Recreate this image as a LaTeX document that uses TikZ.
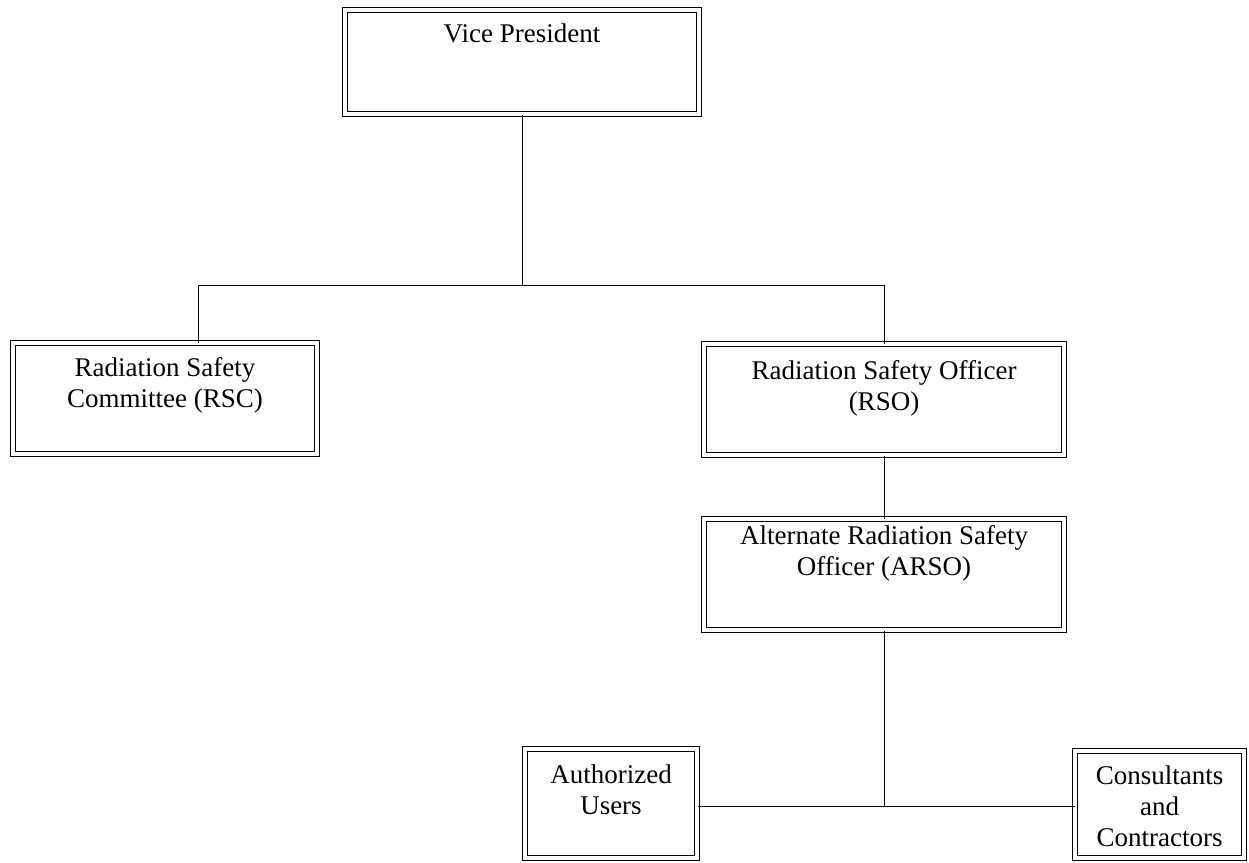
\documentclass[tikz,border=0pt]{standalone}
\usepackage{fontspec}
\setmainfont{Liberation Serif}
\usetikzlibrary{positioning}

\tikzset{
  unitbox/.style={draw, double, double distance=3.4pt, line width=1pt, inner sep=0pt},
  unittext/.style={font=\fontsize{27}{31}\selectfont, align=center, anchor=north, inner sep=0pt},
  link/.style={line width=0.8pt}
}

\begin{document}
\begin{tikzpicture}[x=1pt,y=-1pt]
  \path[fill=white] (0,0) rectangle (1249,862);
  \useasboundingbox (0,0) rectangle (1249,862);

  % boxes
  \node[unitbox, minimum width=354pt, minimum height=104pt] (vp) at (522,62) {};
  \node[unitbox, minimum width=304pt, minimum height=111pt] (rsc) at (165,398.5) {};
  \node[unitbox, minimum width=360pt, minimum height=111pt] (rso) at (884,399.5) {};
  \node[unitbox, minimum width=360pt, minimum height=111pt] (arso) at (884,574.5) {};
  \node[unitbox, minimum width=172pt, minimum height=109pt] (au) at (611,803.5) {};
  \node[unitbox, minimum width=169pt, minimum height=107pt] (cc) at (1159.5,804.5) {};

  % texts
  \node[unittext] (vptext) at ([yshift=-14pt]vp.north) {Vice President};
  \node[unittext] (rsctext) at ([yshift=-15pt]rsc.north) {Radiation Safety\\Committee (RSC)};
  \node[unittext] (rsotext) at ([yshift=-17pt]rso.north) {Radiation Safety Officer\\(RSO)};
  \node[unittext] (arsotext) at ([yshift=-7pt]arso.north) {Alternate Radiation Safety\\Officer (ARSO)};
  \node[unittext] (autext) at ([yshift=-16pt]au.north) {Authorized\\Users};
  \node[unittext] (cctext) at ([yshift=-15pt]cc.north) {Consultants\\and\\Contractors};

  % connectors
  \coordinate (bus) at (522,285);
  \coordinate (rscdrop) at (198,285);
  \coordinate (rsodrop) at (884,285);
  \coordinate (lowbus) at (884,806);
  \draw[link] (vp.south) -- (bus);
  \draw[link] (rscdrop |- rsc.north) -- (rscdrop) -- (rsodrop) -- (rso.north);
  \draw[link] (rso.south) -- (arso.north);
  \draw[link] (arso.south) -- (lowbus);
  \draw[link] (au.east |- lowbus) -- (cc.west |- lowbus);
\end{tikzpicture}
\end{document}
